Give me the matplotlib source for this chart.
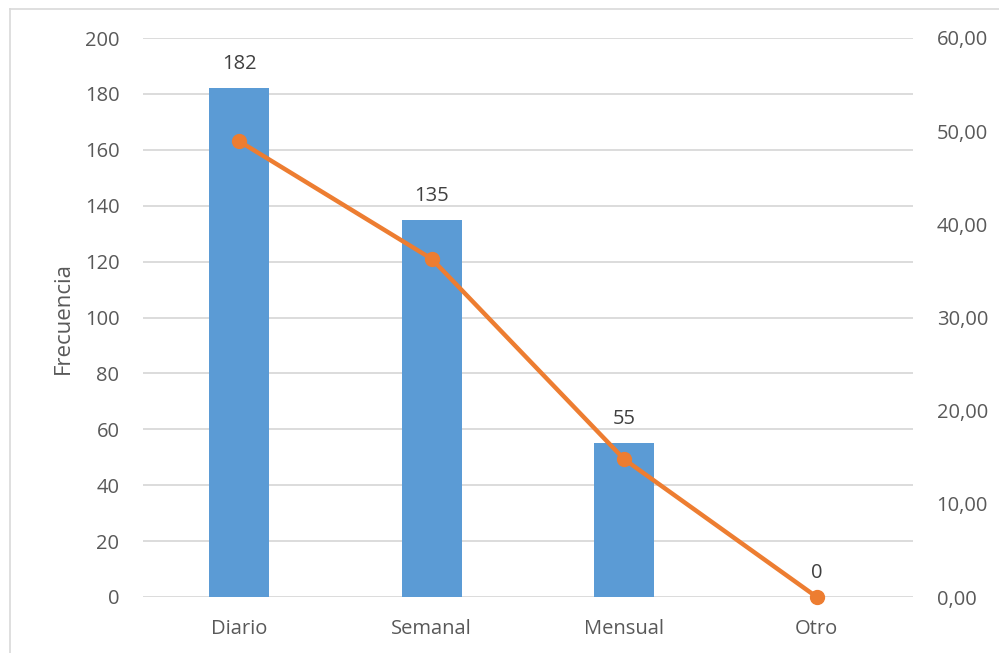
import matplotlib
matplotlib.use("Agg")
import matplotlib.pyplot as plt
from matplotlib.lines import Line2D
from matplotlib.ticker import FuncFormatter

# Frequency of use per category and its share in percent
categories = ["Diario", "Semanal", "Mensual", "Otro"]
frecuencia = [182, 135, 55, 0]
porcentaje = [48.92, 36.29, 14.78, 0.00]

left_ticks = [0, 20, 40, 60, 80, 100, 120, 140, 160, 180, 200]
right_ticks = [0, 10, 20, 30, 40, 50, 60]

plt.rcParams["font.family"] = ["Open Sans", "DejaVu Sans"]
text_color = "#595959"
bar_color = "#5B9BD5"
line_color = "#ED7D31"
grid_color = "#D9D9D9"
fs = 14.5

fig = plt.figure(figsize=(9.99, 6.53), dpi=100)
ax = fig.add_axes([143 / 999, 1 - 597 / 653, 770 / 999, 559 / 653])

x = list(range(len(categories)))
bars = ax.bar(x, frecuencia, width=0.31, color=bar_color, zorder=2)
ax.set_xlim(-0.5, len(categories) - 0.5)
ax.set_ylim(0, 200)
ax.set_yticks(left_ticks)
ax.set_xticks(x)
ax.set_xticklabels(categories)
ax.yaxis.grid(True, color=grid_color, linewidth=1.3, zorder=0)
ax.set_axisbelow(True)
for s in ax.spines.values():
    s.set_visible(False)
ax.tick_params(axis="both", length=0, labelsize=fs, colors=text_color)
ax.tick_params(axis="y", pad=17)
ax.tick_params(axis="x", pad=16)
ax.set_ylabel("Frecuencia", fontsize=16, color=text_color, labelpad=8)

for b, v in zip(bars, frecuencia):
    ax.annotate(str(v), (b.get_x() + b.get_width() / 2, v),
                xytext=(0, 10), textcoords="offset points",
                ha="center", va="bottom", fontsize=fs, color="#404040")

ax2 = ax.twinx()
ax2.plot(x, porcentaje, color=line_color, linewidth=3.2, marker="o",
         markersize=10, zorder=3, clip_on=False)
ax2.set_ylim(0, 60)
ax2.set_yticks(right_ticks)
ax2.yaxis.set_major_formatter(FuncFormatter(lambda v, p: f"{v:.2f}".replace(".", ",")))
for s in ax2.spines.values():
    s.set_visible(False)
ax2.tick_params(axis="y", length=0, labelsize=fs, colors=text_color, pad=17)

# Chart frame (left and top edges)
fig.add_artist(Line2D([10 / 999, 10 / 999], [0, 1 - 9 / 653],
                      transform=fig.transFigure, color=grid_color, linewidth=1.2))
fig.add_artist(Line2D([10 / 999, 1], [1 - 9 / 653, 1 - 9 / 653],
                      transform=fig.transFigure, color=grid_color, linewidth=1.2))

fig.savefig("out.png", dpi=100)
